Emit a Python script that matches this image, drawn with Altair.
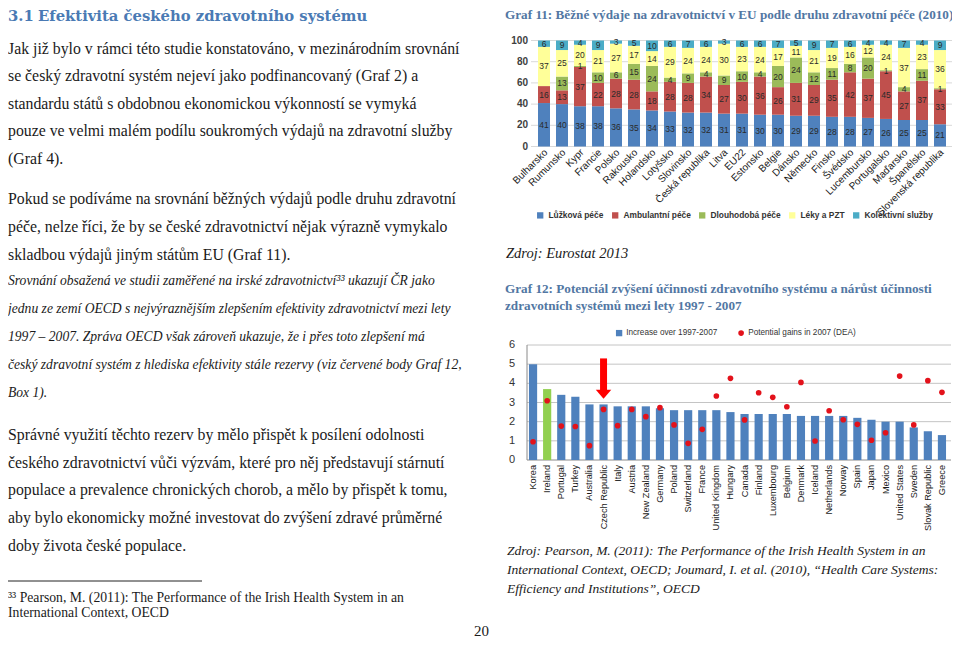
import altair as alt
import pandas as pd

# ---------------- Graf 11 data ----------------
g11_countries = ["Bulharsko", "Rumunsko", "Kypr", "Francie", "Polsko", "Rakousko", "Holandsko",
                 "Lotyšsko", "Slovinsko", "Česká republika", "Litva", "EU22", "Estonsko", "Belgie",
                 "Dánsko", "Německo", "Finsko", "Švédsko", "Lucembursko", "Portugalsko", "Maďarsko",
                 "Španělsko", "Slovenská republika"]
g11_series = ["Lůžková péče", "Ambulantní péče", "Dlouhodobá péče", "Léky a PZT", "Kolektivní služby"]
g11_inpatient = [41, 40, 38, 38, 36, 35, 34, 33, 32, 32, 31, 31, 30, 30, 29, 29, 28, 28, 27, 26, 25, 25, 21]
g11_outpatient = [16, 13, 37, 22, 28, 28, 18, 28, 28, 34, 27, 30, 36, 26, 31, 29, 35, 42, 37, 45, 27, 37, 33]
g11_longterm = [0, 13, 1, 10, 6, 15, 24, 4, 9, 4, 9, 10, 4, 20, 24, 12, 11, 8, 20, 1, 4, 11, 1]
g11_drugs = [37, 25, 20, 21, 27, 17, 14, 29, 24, 24, 30, 23, 24, 17, 11, 21, 19, 16, 12, 24, 37, 23, 36]
g11_collective = [6, 9, 4, 9, 3, 5, 10, 6, 7, 6, 3, 6, 6, 7, 5, 9, 7, 6, 4, 4, 7, 4, 9]
g11_colors = ["#4f81bd", "#c0504d", "#9bbb59", "#ffff99", "#4bacc6"]
g11_ticks = [0, 20, 40, 60, 80, 100]

# ---------------- Graf 12 data ----------------
g12_countries = ["Korea", "Ireland", "Portugal", "Turkey", "Australia", "Czech Republic", "Italy",
                 "Austria", "New Zealand", "Germany", "Poland", "Switzerland", "France",
                 "United Kingdom", "Hungary", "Canada", "Finland", "Luxembourg", "Belgium",
                 "Denmark", "Iceland", "Netherlands", "Norway", "Spain", "Japan", "Mexico",
                 "United States", "Sweden", "Slovak Republic", "Greece"]
g12_increase = [5.0, 3.7, 3.4, 3.3, 2.9, 2.9, 2.8, 2.8, 2.8, 2.7, 2.6, 2.6, 2.6, 2.6, 2.5,
                2.4, 2.4, 2.4, 2.4, 2.3, 2.3, 2.3, 2.3, 2.2, 2.1, 2.0, 2.0, 1.7, 1.5, 1.3]
g12_gains = [0.95, 3.09, 1.77, 1.75, 0.75, 2.64, 1.79, 2.64, 2.26, 2.73, 1.83, 0.87, 1.6, 3.34,
             4.26, 2.09, 3.51, 3.27, 2.78, 4.05, 0.99, 2.57, 2.1, 1.86, 1.03, 1.42, 4.38, 1.83,
             4.14, 3.53]
g12_series_bar = "Increase over 1997-2007"
g12_series_dot = "Potential gains in 2007 (DEA)"
g12_highlight = "Ireland"
g12_arrow_country = "Czech Republic"
g12_arrow_top = 5.3
g12_arrow_head = 3.44
g12_ticks = [0, 1, 2, 3, 4, 5, 6]

# ---------------- page texts ----------------
heading_num = "3.1"
heading = "Efektivita českého zdravotního systému"
para1 = ["Jak již bylo v rámci této studie konstatováno, v mezinárodním srovnání",
         "se český zdravotní systém nejeví jako podfinancovaný (Graf 2) a",
         "standardu států s obdobnou ekonomickou výkonností se vymyká",
         "pouze ve velmi malém podílu soukromých výdajů na zdravotní služby",
         "(Graf 4)."]
para2 = ["Pokud se podíváme na srovnání běžných výdajů podle druhu zdravotní",
         "péče, nelze říci, že by se české zdravotnictví nějak výrazně vymykalo",
         "skladbou výdajů jiným státům EU (Graf 11)."]
para3 = ["Srovnání obsažená ve studii zaměřené na irské zdravotnictví³³ ukazují ČR jako",
         "jednu ze zemí OECD s nejvýraznějším zlepšením efektivity zdravotnictví mezi lety",
         "1997 – 2007. Zpráva OECD však zároveň ukazuje, že i přes toto zlepšení má",
         "český zdravotní systém z hlediska efektivity stále rezervy (viz červené body Graf 12,",
         "Box 1)."]
para4 = ["Správné využití těchto rezerv by mělo přispět k posílení odolnosti",
         "českého zdravotnictví vůči výzvám, které pro něj představují stárnutí",
         "populace a prevalence chronických chorob, a mělo by přispět k tomu,",
         "aby bylo ekonomicky možné investovat do zvýšení zdravé průměrné",
         "doby života české populace."]
footnote = ["³³ Pearson, M. (2011): The Performance of the Irish Health System in an",
            "International Context, OECD"]
page_no = "20"
g11_title = "Graf 11: Běžné výdaje na zdravotnictví v EU podle druhu zdravotní péče (2010)"
g11_source = "Zdroj: Eurostat 2013"
g12_title = ["Graf 12: Potenciál zvýšení účinnosti zdravotního systému a nárůst účinnosti",
             "zdravotních systémů mezi lety 1997 - 2007"]
g12_source = ["Zdroj: Pearson, M. (2011): The Performance of the Irish Health System in an",
              "International Context, OECD; Joumard, I. et al. (2010), “Health Care Systems:",
              "Efficiency and Institutions”, OECD"]

# ---------------- helpers ----------------
M = 8  # page margin


def P(v):
    return v - M


ONE = alt.Data(values=[{}])
SERIF = "Liberation Serif"
SANS = "Liberation Sans"
BLUE_T = "#4a7ab4"
TITLE_C = "#5277a3"
LX = 8  # left column x (page px)


def text_block(lines, x, y, size, style="normal", weight="normal", color="#1a1a1a",
               lh=None, font=SERIF, align="left"):
    return alt.Chart(ONE).mark_text(
        align=align, baseline="alphabetic", fontSize=size, font=font, fontStyle=style,
        fontWeight=weight, color=color, lineHeight=lh if lh else size * 1.2
    ).encode(x=alt.value(P(x)), y=alt.value(P(y)), text=alt.value(lines))


layers = []

# page text
layers.append(text_block(heading_num, LX, 21, 14.8, weight="bold", color=BLUE_T, font="DejaVu Serif"))
layers.append(text_block(heading, 38, 21, 14.8, weight="bold", color=BLUE_T, font="DejaVu Serif"))
layers.append(text_block(para1, LX, 53.5, 15.8, lh=27.5))
layers.append(text_block(para2, LX, 203.5, 15.8, lh=28.2))
layers.append(text_block(para3, LX, 285, 13.6, style="italic", lh=27.9))
layers.append(text_block(para4, LX, 440, 15.8, lh=27.7))
layers.append(text_block(footnote, LX, 602, 13.7, lh=15))
layers.append(text_block(page_no, 474, 636, 15))
layers.append(alt.Chart(ONE).mark_rule(color="#222", strokeWidth=1).encode(
    x=alt.value(P(LX)), x2=alt.value(P(202)), y=alt.value(P(581))))

layers.append(text_block(g11_title, 505, 19, 13.2, weight="bold", color=TITLE_C))
layers.append(text_block(g11_source, 506, 258, 14.5, style="italic"))
layers.append(text_block(g12_title, 505, 293, 13.2, weight="bold", color=TITLE_C, lh=17))
layers.append(text_block(g12_source, 507, 555, 13.5, style="italic", lh=19))

# ---------------- Graf 11 ----------------
rows = []
vals = [g11_inpatient, g11_outpatient, g11_longterm, g11_drugs, g11_collective]
for i, c in enumerate(g11_countries):
    base = 0
    for k, s in enumerate(g11_series):
        v = vals[k][i]
        rows.append(dict(country=c, series=s, k=k, value=v, y0=base, y1=base + v, mid=base + v / 2))
        base += v
df11 = pd.DataFrame(rows)

X11 = alt.Scale(domain=g11_countries, range=[P(535), P(949)], paddingInner=0.33, paddingOuter=0.165)
Y11 = alt.Scale(domain=[0, 100], range=[P(146.5), P(40.5)], nice=False, zero=False)

layers.append(alt.Chart(pd.DataFrame({"v": g11_ticks})).mark_rule(color="#d9d9d9").encode(
    y=alt.Y("v:Q", scale=Y11, axis=None), x=alt.value(P(531)), x2=alt.value(P(955))))
layers.append(alt.Chart(df11).mark_bar().encode(
    x=alt.X("country:N", scale=X11, axis=None),
    y=alt.Y("y0:Q", scale=Y11, axis=None), y2="y1:Q",
    color=alt.Color("series:N", scale=alt.Scale(domain=g11_series, range=g11_colors),
                    legend=alt.Legend(orient="none", legendX=P(536), legendY=P(211),
                                      direction="horizontal", columns=5, title=None,
                                      symbolType="square", symbolSize=40, symbolStrokeWidth=0,
                                      labelFont=SANS, labelFontSize=8.4, labelFontWeight="bold",
                                      labelColor="#333", labelOffset=4, columnPadding=7))))
layers.append(alt.Chart(df11[df11.value > 0]).mark_text(
    fontSize=8.5, font=SANS, color="#2a2a2a", baseline="middle").encode(
    x=alt.X("country:N", scale=X11, axis=None),
    y=alt.Y("mid:Q", scale=Y11, axis=None), text="value:Q"))
layers.append(alt.Chart(pd.DataFrame({"v": g11_ticks})).mark_text(
    align="right", baseline="middle", fontSize=10, font=SANS, fontWeight="bold", color="#404040").encode(
    y=alt.Y("v:Q", scale=Y11, axis=None), x=alt.value(P(528)), text="v:Q"))
layers.append(alt.Chart(pd.DataFrame({"country": g11_countries})).mark_text(
    align="right", baseline="middle", angle=315, fontSize=10, font=SANS, color="#1a1a1a", dx=3).encode(
    x=alt.X("country:N", scale=X11, axis=None), y=alt.value(P(153)), text="country:N"))

# ---------------- Graf 12 ----------------
df12 = pd.DataFrame({"country": g12_countries, "increase": g12_increase, "gains": g12_gains})
df12["bar_series"] = [g12_highlight if c == g12_highlight else g12_series_bar for c in g12_countries]
df12["dot_series"] = g12_series_dot

X12 = alt.Scale(domain=g12_countries, range=[P(526), P(949)], paddingInner=0.42, paddingOuter=0.21)
Y12 = alt.Scale(domain=[0, 6], range=[P(460), P(345)], nice=False, zero=False)

layers.append(alt.Chart(pd.DataFrame({"v": g12_ticks[1:]})).mark_rule(color="#c4c4c4").encode(
    y=alt.Y("v:Q", scale=Y12, axis=None), x=alt.value(P(527)), x2=alt.value(P(951))))
layers.append(alt.Chart(ONE).mark_rule(color="#8a8a8a").encode(
    y=alt.Y("a:Q", scale=Y12, axis=None), x=alt.value(P(527)), x2=alt.value(P(951))
).transform_calculate(a="0"))
layers.append(alt.Chart(ONE).mark_rule(color="#8a8a8a").encode(
    y=alt.Y("a:Q", scale=Y12, axis=None), y2="b:Q", x=alt.value(P(527))
).transform_calculate(a="0", b="6"))
layers.append(alt.Chart(df12).mark_bar().encode(
    x=alt.X("country:N", scale=X12, axis=None),
    y=alt.Y("increase:Q", scale=Y12, axis=None),
    color=alt.Color("bar_series:N",
                    scale=alt.Scale(domain=[g12_series_bar, g12_highlight], range=["#4f81bd", "#92d050"]),
                    legend=alt.Legend(orient="none", legendX=P(615), legendY=P(329), title=None,
                                      values=[g12_series_bar], symbolType="square", symbolSize=40,
                                      symbolStrokeWidth=0, labelFont=SANS, labelFontSize=8.2,
                                      labelColor="#333", labelOffset=3))))
layers.append(alt.Chart(df12).mark_point(filled=True, shape="circle", size=32, opacity=1).encode(
    x=alt.X("country:N", scale=X12, axis=None),
    y=alt.Y("gains:Q", scale=Y12, axis=None),
    color=alt.Color("dot_series:N", scale=alt.Scale(domain=[g12_series_dot], range=["#e3121b"]),
                    legend=alt.Legend(orient="none", legendX=P(737), legendY=P(329), title=None,
                                      symbolType="circle", symbolSize=32, symbolStrokeWidth=0,
                                      labelFont=SANS, labelFontSize=8.2, labelColor="#333",
                                      labelOffset=3))))
arrow = pd.DataFrame({"country": [g12_arrow_country], "top": [g12_arrow_top], "head": [g12_arrow_head]})
layers.append(alt.Chart(arrow).mark_rule(color="#ff0000", strokeWidth=7).encode(
    x=alt.X("country:N", scale=X12, axis=None),
    y=alt.Y("top:Q", scale=Y12, axis=None), y2="head:Q"))
layers.append(alt.Chart(arrow).mark_point(filled=True, opacity=1, color="#ff0000", size=240,
                                          shape="M-1,-0.55L1,-0.55L0,0.6Z").encode(
    x=alt.X("country:N", scale=X12, axis=None),
    y=alt.Y("head:Q", scale=Y12, axis=None)))
layers.append(alt.Chart(pd.DataFrame({"v": g12_ticks})).mark_text(
    align="right", baseline="middle", fontSize=11, font=SANS, color="#333").encode(
    y=alt.Y("v:Q", scale=Y12, axis=None), x=alt.value(P(515)), text="v:Q"))
layers.append(alt.Chart(pd.DataFrame({"country": g12_countries})).mark_text(
    align="right", baseline="middle", angle=270, fontSize=9.2, font=SANS,
    color="#1a1a1a").encode(
    x=alt.X("country:N", scale=X12, axis=None), y=alt.value(P(465)), text="country:N"))

chart = alt.layer(*layers).resolve_scale(
    x="independent", y="independent", color="independent"
).resolve_legend(color="independent").properties(
    width=944, height=633, autosize=alt.AutoSizeParams(type="none"), padding=0
).configure_view(stroke=None)

chart.save("out.html", embed_options={"renderer": "svg", "actions": False})
